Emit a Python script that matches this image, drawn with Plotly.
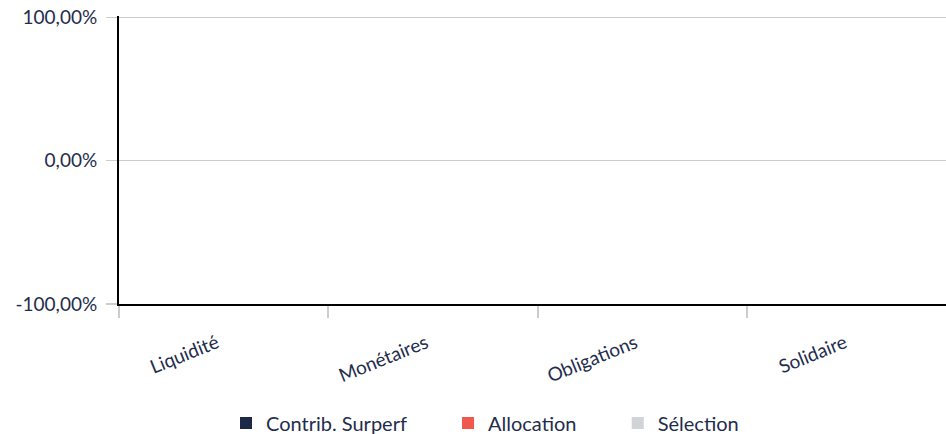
import plotly.graph_objects as go

categories = ["Liquidité", "Monétaires", "Obligations", "Solidaire"]
contrib_surperf = [0, 0, 0, 0]
allocation = [0, 0, 0, 0]
selection = [0, 0, 0, 0]
y_tick_values = [-1, 0, 1]
y_tick_labels = ["-100,00%", "0,00%", "100,00%"]

FONT = "Lato, Open Sans, sans-serif"
TXT = "#1f2d4d"

fig = go.Figure()
fig.add_bar(x=categories, y=contrib_surperf, name="Contrib. Surperf", legend="legend",
            marker=dict(color="#1c2a47", line=dict(width=0)))
fig.add_bar(x=categories, y=allocation, name="Allocation", legend="legend2",
            marker=dict(color="#f0584f", line=dict(width=0)))
fig.add_bar(x=categories, y=selection, name="Sélection", legend="legend3",
            marker=dict(color="#d0d3d8", line=dict(width=0)))

leg_common = dict(orientation="h", xref="container", yref="container",
                  y=0.0255, yanchor="middle", xanchor="left",
                  font=dict(family=FONT, size=20, color=TXT), itemwidth=30,
                  bgcolor="rgba(0,0,0,0)")

fig.update_layout(
    width=946, height=434,
    margin=dict(l=119, r=0, t=16, b=130, autoexpand=False),
    paper_bgcolor="white", plot_bgcolor="white",
    barmode="group",
    font=dict(family=FONT, size=19, color=TXT),
    showlegend=True,
    legend=dict(x=0.2389, **leg_common),
    legend2=dict(x=0.4736, **leg_common),
    legend3=dict(x=0.6530, **leg_common),
    xaxis=dict(
        type="category",
        range=[-0.5, 3.45],
        tickson="boundaries",
        ticks="outside", ticklen=12, tickwidth=2, tickcolor="#cccccc",
        showgrid=False,
        showline=True, linecolor="#000000", linewidth=2,
        tickangle=-22,
        ticklabelstandoff=19,
        ticklabelshift=-7,
        tickfont=dict(family=FONT, size=19, color=TXT),
        automargin=False,
        fixedrange=True,
    ),
    yaxis=dict(
        range=[-1, 1.01],
        tickvals=y_tick_values,
        ticktext=y_tick_labels,
        showgrid=True, gridcolor="#cccccc", gridwidth=1.5,
        ticks="outside", ticklen=11, tickcolor="#cccccc", tickwidth=1.5,
        showline=True, linecolor="#000000", linewidth=2,
        zeroline=False,
        ticklabelstandoff=5,
        ticklabeloverflow="allow",
        tickfont=dict(family=FONT, size=19, color=TXT),
        automargin=False,
        fixedrange=True,
    ),
)

fig.write_html("out.html", config={"displayModeBar": False, "staticPlot": True},
               post_script="document.body.style.margin='0';")
